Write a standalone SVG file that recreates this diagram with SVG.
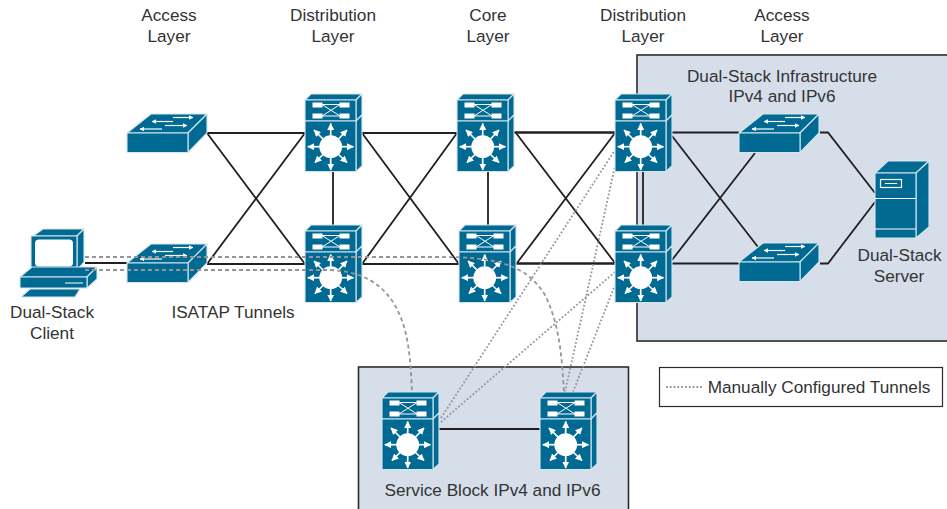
<svg xmlns="http://www.w3.org/2000/svg" width="947" height="509" viewBox="0 0 947 509">
<style>
text{font-family:"Liberation Sans",Arial,sans-serif;font-size:17.2px;fill:#333334;text-anchor:middle}
.panel{fill:#d6deea;stroke:#2b2b2c;stroke-width:1.6}
.b{fill:#006a93;stroke:#d5e6ee;stroke-width:1.1;stroke-linejoin:round}
.w{fill:#fff;stroke:none}
.wl{fill:none;stroke:#fff;stroke-width:1}
.wa{fill:none;stroke:#fff;stroke-width:1.7}
.wb{fill:none;stroke:#fff;stroke-width:1.2}
.ln{fill:none;stroke:#231f20;stroke-width:1.8}
.th{fill:none;stroke:#231f20;stroke-width:2.4}
.dash{fill:none;stroke:#939598;stroke-width:1.8;stroke-dasharray:4 3}
.dot{fill:none;stroke:#939598;stroke-width:1.8;stroke-dasharray:1.8 2}
</style>
<defs>
<marker id="h" viewBox="0 0 6 6" refX="5.500" refY="3" markerWidth="7" markerHeight="7" markerUnits="userSpaceOnUse" orient="auto"><path d="M0 0L6 3L0 6Z" fill="#fff"/></marker>
<marker id="s" viewBox="0 0 6 6" refX="5.500" refY="3" markerWidth="4.500" markerHeight="4.500" markerUnits="userSpaceOnUse" orient="auto"><path d="M0 0L6 3L0 6Z" fill="#fff"/></marker>
<g id="mls">
<path class="b" d="M0 0L6-6H57L51 0Z"/>
<path class="b" d="M51 0L57-6V15L51 21Z"/>
<path class="b" d="M51 21L57 15V66L51 71.500Z"/>
<rect class="b" x="0" y="0" width="51" height="21"/>
<rect class="b" x="0" y="21" width="51" height="50.500"/>
<rect class="w" x="7.500" y="2.500" width="10" height="5"/><rect class="w" x="7.500" y="13.500" width="10" height="5"/>
<rect class="w" x="34.500" y="2.500" width="10" height="5"/><rect class="w" x="34.500" y="13.500" width="10" height="5"/>
<path class="wl" d="M17 4.500H35M17 16H35M17 4.500L35 16M17 16L35 4.500"/>
<circle class="w" cx="25.700" cy="46.700" r="11.400"/>
<path class="wa" marker-end="url(#h)" d="M25.700 36V23.500"/>
<path class="wa" marker-end="url(#h)" d="M25.700 57V70"/>
<path class="wa" marker-end="url(#h)" d="M15 46.700H2.800"/>
<path class="wa" marker-end="url(#h)" d="M36 46.700H48.500"/>
<path class="wa" marker-end="url(#h)" d="M18 39L9 30"/>
<path class="wa" marker-end="url(#h)" d="M33.500 39L42 30"/>
<path class="wa" marker-end="url(#h)" d="M18 54.500L10 62.500"/>
<path class="wa" marker-end="url(#h)" d="M33.500 54.500L42 62.500"/>
</g>
<g id="sw">
<path class="b" d="M0 0L24-19H80L61 0Z"/>
<path class="b" d="M61 0L80-19V0L61 19.500Z"/>
<rect class="b" x="0" y="0" width="61" height="19.500"/>
<path class="wb" marker-end="url(#s)" d="M46-15.500H66"/>
<path class="wb" marker-end="url(#s)" d="M46-11.500H25"/>
<path class="wb" marker-end="url(#s)" d="M38-7.500H60"/>
<path class="wb" marker-end="url(#s)" d="M35-4H13"/>
</g>
</defs>

<rect class="panel" x="637" y="55" width="312" height="286"/>
<rect class="panel" x="358.500" y="367" width="270" height="144"/>

<g id="connectors">
<path class="ln" d="M207 133H305M207 264H305M207 133L305 264M207 264L305 133"/>
<path class="ln" d="M85 263H127"/>
<path class="ln" d="M362 133H457M362 264H459M362 133L459 264M362 264L457 133"/>
<path class="ln" d="M333 170V231M488 170V231"/>
<path class="th" d="M514 132.500H615M516 263.500H615"/>
<path class="ln" d="M516 133L615 263M517 263L615 133"/>
<path class="ln" d="M643 170V231"/>
<path class="ln" d="M672 132.500H739M672 263.500H739M672 136L758 247M672 260L755 153"/>
<path class="ln" d="M820 132.500H828L875 193M820 263.500H828L875 202"/>
<path class="ln" d="M438 429H540"/>
<path class="dot" d="M441 418L615 150M441 422L615 272M565 392L615 166M573 392L615 285"/>
</g>

<g id="client">
<path class="b" d="M33 236L43 229H84L77 236Z"/>
<path class="b" d="M77 236L84 229V262L77 270Z"/>
<rect class="b" x="31" y="236" width="46" height="34"/>
<rect class="w" x="35" y="239.500" width="38" height="27" rx="4"/>
<path class="b" d="M20 277L32 267H97L87 277Z"/>
<path class="b" d="M87 277L97 267V279L87 288Z"/>
<rect class="b" x="20" y="277" width="67" height="11"/>
<path class="wl" d="M65 283H83"/>
<path class="b" d="M21 297L30 289H80L75 297Z"/>
</g>
<g id="access-1"><use href="#sw" x="127" y="133"/></g>
<g id="access-2"><use href="#sw" x="127" y="263"/></g>
<g id="dist-1"><use href="#mls" x="305" y="100"/></g>
<g id="dist-2"><use href="#mls" x="305" y="231"/></g>
<g id="core-1"><use href="#mls" x="457" y="100"/></g>
<g id="core-2"><use href="#mls" x="459" y="231"/></g>
<g id="dist-3"><use href="#mls" x="615" y="100"/></g>
<g id="dist-4"><use href="#mls" x="615" y="231"/></g>
<g id="access-3"><use href="#sw" x="739" y="133"/></g>
<g id="access-4"><use href="#sw" x="739" y="262"/></g>
<g id="server">
<path class="b" d="M875 173L888 161H929L916 173Z"/>
<path class="b" d="M916 173L929 161V227L916 238Z"/>
<rect class="b" x="875" y="173" width="41" height="65"/>
<path class="wl" d="M875 198.500H916M875 229H916"/>
<rect x="880.500" y="179.500" width="21" height="8" fill="none" stroke="#fff" stroke-width="1.2"/>
<path class="wl" d="M885 183.500H897"/>
</g>
<g id="service-1"><use href="#mls" x="382" y="398"/></g>
<g id="service-2"><use href="#mls" x="540" y="398"/></g>

<g id="tunnels">
<path class="dash" d="M85 257H440C490 257 525 262 545 295C560 325 562 360 564 392"/>
<path class="dash" d="M85 270H330C375 272 395 295 405 330C410 350 411 370 412 392"/>
</g>

<g id="legend">
<rect x="659.500" y="367.500" width="283" height="39" fill="#fff" stroke="#2b2b2c" stroke-width="1.2"/>
<path class="dot" d="M666 387H702"/>
<text x="819" y="393">Manually Configured Tunnels</text>
</g>

<text x="169" y="21">Access</text><text x="169" y="42">Layer</text>
<text x="333" y="21">Distribution</text><text x="333" y="42">Layer</text>
<text x="488" y="21">Core</text><text x="488" y="42">Layer</text>
<text x="643" y="21">Distribution</text><text x="643" y="42">Layer</text>
<text x="782" y="21">Access</text><text x="782" y="42">Layer</text>
<text x="782" y="82">Dual-Stack Infrastructure</text><text x="782" y="102">IPv4 and IPv6</text>
<text x="899.500" y="261">Dual-Stack</text><text x="899" y="282">Server</text>
<text x="52" y="318">Dual-Stack</text><text x="52" y="339">Client</text>
<text x="233" y="318">ISATAP Tunnels</text>
<text x="492.500" y="496">Service Block IPv4 and IPv6</text>
</svg>
